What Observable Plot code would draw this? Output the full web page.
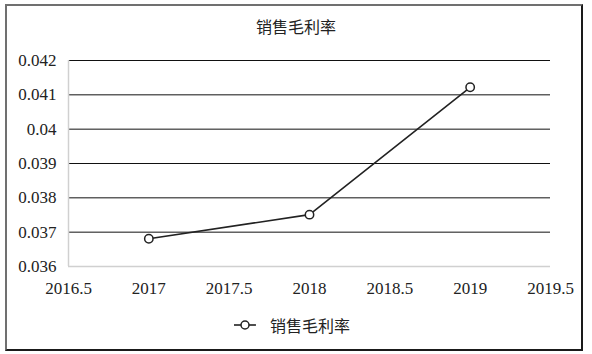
<!DOCTYPE html>
<html>
<head>
<meta charset="utf-8">
<script src="https://cdn.jsdelivr.net/npm/d3@7"></script>
<script src="https://cdn.jsdelivr.net/npm/@observablehq/plot@0.6"></script>
<style>
  html, body { margin: 0; padding: 0; background: #fff; }
  #wrap { position: relative; width: 592px; height: 354px; overflow: hidden; background: #fff; }
  #frame { position: absolute; left: 5px; top: 4px; width: 578px; height: 347px; border: 2px solid; border-color: #707070 #1a1a1a #1a1a1a #707070; box-sizing: border-box; }
  #title { position: absolute; left: 0; top: 16px; width: 592px; text-align: center; font-family: "Noto Sans CJK SC", sans-serif; font-size: 16px; color: #222; line-height: 20px; }
  #chart { position: absolute; left: 0; top: 40px; }
  #legend { position: absolute; left: 234px; top: 314px; font-family: "Noto Sans CJK SC", sans-serif; font-size: 16px; color: #222; line-height: 22px; display: flex; align-items: center; }
  #legend svg { margin-right: 14px; }
</style>
</head>
<body>
<div id="wrap">
  <div id="frame"></div>
  <div id="title"></div>
  <div id="chart"></div>
  <div id="legend"></div>
</div>
<script>
const title = "销售毛利率";
const seriesName = "销售毛利率";
const years = [2017, 2018, 2019];
const values = [0.03681, 0.03751, 0.04122];
const xTicks = [2016.5, 2017, 2017.5, 2018, 2018.5, 2019, 2019.5];
const yTicks = [0.036, 0.037, 0.038, 0.039, 0.04, 0.041, 0.042];

const data = years.map((y, i) => ({year: y, value: values[i]}));

document.getElementById("title").textContent = title;

const serif = "Liberation Serif";
const plot = Plot.plot({
  width: 592,
  height: 270,
  marginTop: 20,
  marginBottom: 44,
  marginLeft: 68,
  marginRight: 42,
  style: {background: "transparent"},
  x: {domain: [2016.5, 2019.5], label: null},
  y: {domain: [0.036, 0.042], label: null},
  marks: [
    Plot.ruleY(yTicks.slice(1), {stroke: "#111", strokeWidth: 1}),
    Plot.ruleY([yTicks[0]], {stroke: "#d0d0d0", strokeWidth: 1.5}),
    Plot.ruleX([xTicks[0]], {stroke: "#d0d0d0", strokeWidth: 1.5}),
    Plot.axisX({ticks: xTicks, tickFormat: d => String(d), tickSize: 0, tickPadding: 15, label: null, fill: "#222"}),
    Plot.axisY({ticks: yTicks, tickFormat: d => String(d), tickSize: 0, tickPadding: 12, label: null, fill: "#222"}),
    Plot.line(data, {x: "year", y: "value", stroke: "#222", strokeWidth: 1.6}),
    Plot.dot(data, {x: "year", y: "value", r: 4.2, fill: "#fff", stroke: "#222", strokeWidth: 1.5})
  ]
});
plot.setAttribute("font-family", serif);
plot.setAttribute("font-size", "17");
plot.querySelectorAll("text").forEach(t => {
  t.setAttribute("font-family", serif);
  t.style.fontFamily = serif;
  t.style.fontSize = "17px";
});
document.getElementById("chart").appendChild(plot);

const legend = document.getElementById("legend");
legend.innerHTML = `<svg width="22" height="12" viewBox="0 0 22 12"><line x1="0" y1="6" x2="22" y2="6" stroke="#222" stroke-width="1.6"/><circle cx="11" cy="6" r="4" fill="#fff" stroke="#222" stroke-width="1.5"/></svg><span></span>`;
legend.querySelector("span").textContent = seriesName;
</script>
</body>
</html>
